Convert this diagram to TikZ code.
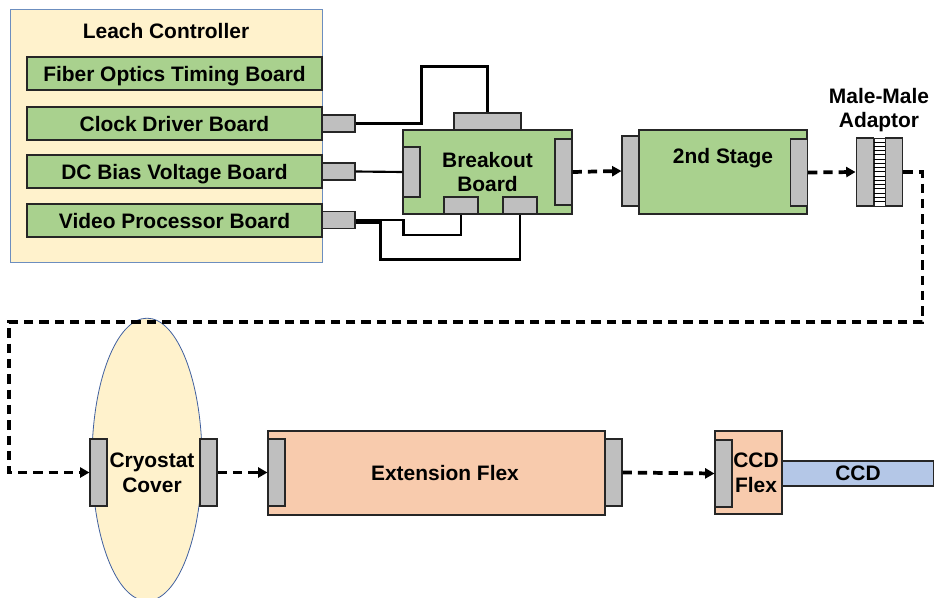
\documentclass[tikz,border=0pt]{standalone}
\usepackage{fontspec}
\setmainfont{Liberation Sans}
\usepackage{xcolor}
\usepackage{tikz}
\usetikzlibrary{positioning,arrows.meta,calc,shapes.geometric}

\definecolor{ctrlyellow}{HTML}{FFF2CC}
\definecolor{ctrlline}{HTML}{6C8EBF}
\definecolor{boardgreen}{HTML}{A9D18E}
\definecolor{conngray}{HTML}{BFBFBF}
\definecolor{flexpeach}{HTML}{F8CBAD}
\definecolor{ccdblue}{HTML}{B4C7E7}
\definecolor{cryoline}{HTML}{3F5F9F}

\begin{document}
\begin{tikzpicture}[x=0.75pt, y=-0.75pt,
  txt/.style={font=\bfseries\fontsize{15.7}{18.5}\selectfont, align=center, inner sep=0pt},
  ctrl/.style={draw=ctrlline, fill=ctrlyellow, line width=0.6pt, minimum width=234pt, minimum height=189.75pt, inner sep=0pt},
  board/.style={txt, draw=black!85, fill=boardgreen, line width=0.8pt, minimum width=221.25pt, minimum height=24.75pt, text depth=0pt},
  pcb/.style={txt, draw=black!85, fill=boardgreen, line width=0.8pt, minimum width=126.75pt, minimum height=63pt},
  flex/.style={txt, draw=black!85, fill=flexpeach, line width=0.8pt},
  conn/.style={draw=black!85, fill=conngray, line width=0.8pt, inner sep=0pt, minimum width=12.75pt, minimum height=50.25pt},
  hconn/.style={conn, minimum width=25.5pt, minimum height=12.75pt},
  wire/.style={line width=1.6pt},
  flow/.style={line width=2.8pt, dash pattern=on 7pt off 4.5pt, -{Triangle[length=7pt,width=7.5pt]}}
]
\useasboundingbox (0,0) rectangle (934,598);

% Leach controller
\node[ctrl] (leach) at (166,135.5) {};
\node[txt] (leachtxt) at (166,31) {Leach Controller};
\node[board] (fotb) at (174.5,73.5) {Fiber Optics Timing Board};
\node[board] (cdb) at (174.5,123.5) {Clock Driver Board};
\node[board] (dcb) at (174.5,171.5) {DC Bias Voltage Board};
\node[board] (vpb) at (174.5,220.5) {Video Processor Board};
\node[hconn, minimum width=24.75pt] (cdbc) at (338.5,123.5) {};
\node[hconn, minimum width=24.75pt] (dcbc) at (338.5,171.5) {};
\node[hconn, minimum width=24.75pt] (vpbc) at (338.5,220) {};

% breakout board
\node[pcb] (bob) at (487.5,172) {Breakout\\Board};
\node[hconn, minimum width=50.25pt] (bobt) at (487.5,121.5) {};
\node[conn, minimum height=37.5pt] (bobl) at (411.5,172) {};
\node[conn, minimum height=49.5pt] (bobr) at (563.5,172) {};
\node[hconn] (bobb1) at (461,205.5) {};
\node[hconn] (bobb2) at (520,205.5) {};

\draw[wire] (cdbc.east) -| ++(66,-57) -| (bobt.north);
\draw[wire] (dcbc.east) -- (bobl.west);
\draw[wire] (vpbc.east) -- ++(48,0) -- ++(0,15) -| (bobb1.south);
\draw[wire] ($(vpbc.east)+(0,2.5)$) -- ++(25,0) -- ++(0,37) -| (bobb2.south);

% 2nd stage
\node[pcb, minimum width=126pt, label={[txt, yshift=10.5pt]center:2nd Stage}] (stage) at (723,172) {};
\node[conn, minimum height=52.5pt] (stagel) at (630.5,171) {};
\node[conn, minimum height=50.25pt] (stager) at (799,172.5) {};
\draw[flow] (bobr.east) -- (stagel.west);

% male-male adaptor
\node[draw=black!85, fill=white, line width=0.6pt, minimum width=8.25pt, minimum height=51pt, inner sep=0pt] (ladder) at (879.5,172) {};
\foreach \k in {1,...,15}
  \draw[line width=0.35pt] ($(ladder.north west)+(0,\k*4.25)$) -- ($(ladder.north east)+(0,\k*4.25)$);
\node[conn, minimum height=51pt, left=0pt of ladder] (adl) {};
\node[conn, minimum height=51pt, right=0pt of ladder] (adr) {};
\node[txt] (adtxt) at (879,110) {Male-Male\\Adaptor};
\draw[flow] (stager.east) -- (adl.west);

% cryostat cover
\node[ellipse, draw=cryoline, fill=ctrlyellow, line width=0.6pt, minimum width=82.5pt, minimum height=212pt, inner sep=0pt] (cryo) at (147,459.5) {};
\node[txt] (cryotxt) at (152,473) {Cryostat\\Cover};
\node[conn] (cryol) at (98.5,472.5) {};
\node[conn] (cryor) at (208.5,472.5) {};

\coordinate (bend) at (9,322);
\draw[flow] (adr.east) -- ++(19,0) |- (bend) |- (cryol.west);

% extension flex
\node[flex, minimum width=252.75pt, minimum height=63pt] (ext) at (436.5,473) {};
\node[txt] (exttxt) at (445,473) {Extension Flex};
\node[conn] (extl) at (276.5,472.5) {};
\node[conn] (extr) at (613.5,472.5) {};
\draw[flow] (cryor.east) -- (extl.west);

% CCD flex and CCD
\node[txt, draw=black!85, fill=ccdblue, line width=0.8pt, minimum width=114pt, minimum height=18.75pt] (ccd) at (858,473.5) {CCD};
\node[flex, minimum width=50.25pt, minimum height=62.25pt] (ccdf) at (748.5,472.5) {};
\node[conn] (ccdfl) at (723.5,473.5) {};
\node[txt] (ccdftxt) at (756,473) {CCD\\Flex};
\draw[flow] (extr.east) -- (ccdfl.west);

\end{tikzpicture}
\end{document}
